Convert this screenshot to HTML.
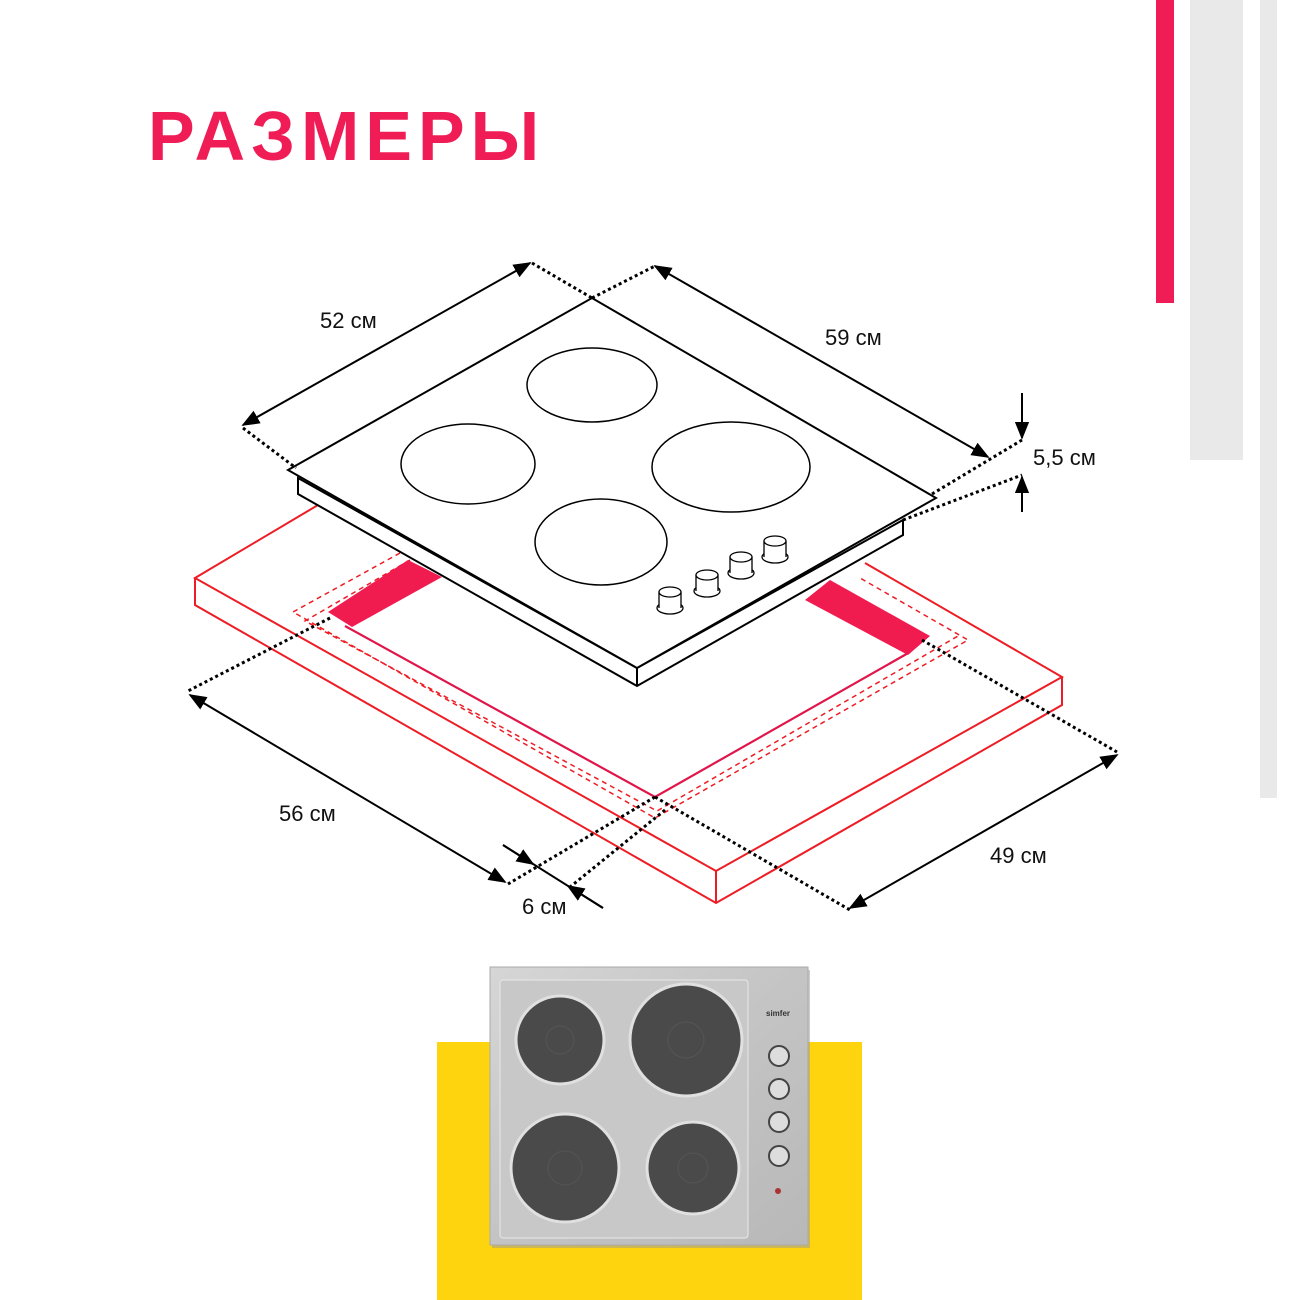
<!DOCTYPE html>
<html><head><meta charset="utf-8"><style>
html,body{margin:0;padding:0;background:#fff;}
body{width:1300px;height:1300px;position:relative;overflow:hidden;font-family:"Liberation Sans",sans-serif;}
.t{position:absolute;left:148px;top:96px;font-size:70px;font-weight:bold;color:#f01c56;letter-spacing:6px;line-height:80px;}
</style></head><body>
<div style="position:absolute;left:1156px;top:0;width:18px;height:303px;background:#f01c56"></div>
<div style="position:absolute;left:1190px;top:0;width:53px;height:460px;background:#e9e9e9"></div>
<div style="position:absolute;left:1260px;top:0;width:17px;height:798px;background:#e9e9e9"></div>
<div class="t">РАЗМЕРЫ</div>
<svg width="1300" height="1300" style="position:absolute;left:0;top:0" font-family="Liberation Sans, sans-serif">
<defs>
<marker id="a" viewBox="0 0 10 10" refX="9" refY="5" markerWidth="9" markerHeight="9" orient="auto-start-reverse"><path d="M0,1 L10,5 L0,9 z" fill="#000"/></marker>
</defs>
<g fill="none" stroke="#ee1c24" stroke-width="2">
<polygon points="195,578 318,505 1062,677 716,871" fill="#fff" stroke="none"/>
<polyline points="318,505 195,578 716,871 1062,677 865,563"/>
<polyline points="195,578 195,605 716,903 1062,705 1062,677"/>
<line x1="716" y1="871" x2="716" y2="903"/>
<polyline points="345,626 655,797 910,652" stroke="#e0164a" stroke-width="2.2"/>
</g>
<g fill="none" stroke="#ee1c24" stroke-width="1.5" stroke-dasharray="5,4">
<polyline points="400,553 293,612 655,818 968,640 860,578"/>
<polyline points="410,560 305,621 657,811 958,636"/>
</g>
<polygon points="408,560 442,577 352,627 328,612" fill="#f01c50"/>
<polygon points="830,580 930,636 908,655 805,600" fill="#f01c50"/>
<g stroke="#000" stroke-width="2" fill="#fff">
<polygon points="298,478 298,494 637,686 903,535 903,520 637,668"/>
<polygon points="288,470 592,298 936,498 637,668"/>
<line x1="637" y1="668" x2="637" y2="686"/>
</g>
<g stroke="#000" stroke-width="1.5" fill="none">
<ellipse cx="592" cy="385" rx="65" ry="37"/>
<ellipse cx="468" cy="464" rx="67" ry="40"/>
<ellipse cx="731" cy="467" rx="79" ry="45"/>
<ellipse cx="601" cy="542" rx="66" ry="43"/>
</g>
<g stroke="#000" stroke-width="1.3" fill="#fff">
<g transform="translate(670,600)"><ellipse cx="0" cy="8" rx="13" ry="6"/><rect x="-11" y="-8" width="22" height="16" stroke="none"/><line x1="-11" y1="-8" x2="-11" y2="8"/><line x1="11" y1="-8" x2="11" y2="8"/><ellipse cx="0" cy="-8" rx="11" ry="5"/></g>
<g transform="translate(707,583)"><ellipse cx="0" cy="8" rx="13" ry="6"/><rect x="-11" y="-8" width="22" height="16" stroke="none"/><line x1="-11" y1="-8" x2="-11" y2="8"/><line x1="11" y1="-8" x2="11" y2="8"/><ellipse cx="0" cy="-8" rx="11" ry="5"/></g>
<g transform="translate(741,565)"><ellipse cx="0" cy="8" rx="13" ry="6"/><rect x="-11" y="-8" width="22" height="16" stroke="none"/><line x1="-11" y1="-8" x2="-11" y2="8"/><line x1="11" y1="-8" x2="11" y2="8"/><ellipse cx="0" cy="-8" rx="11" ry="5"/></g>
<g transform="translate(775,549)"><ellipse cx="0" cy="8" rx="13" ry="6"/><rect x="-11" y="-8" width="22" height="16" stroke="none"/><line x1="-11" y1="-8" x2="-11" y2="8"/><line x1="11" y1="-8" x2="11" y2="8"/><ellipse cx="0" cy="-8" rx="11" ry="5"/></g>
</g>
<g stroke="#000" stroke-width="3" stroke-dasharray="3,3" fill="none">
<line x1="532" y1="263" x2="592" y2="298"/>
<line x1="592" y1="298" x2="655" y2="266"/>
<line x1="243" y1="428" x2="296" y2="468"/>
<line x1="932" y1="494" x2="1022" y2="440"/>
<line x1="903" y1="520" x2="1022" y2="475"/>
<line x1="330" y1="618" x2="186" y2="692"/>
<line x1="655" y1="797" x2="508" y2="884"/>
<line x1="665" y1="810" x2="570" y2="887"/>
<line x1="655" y1="797" x2="850" y2="910"/>
<line x1="922" y1="640" x2="1117" y2="752"/>
</g>
<g stroke="#000" stroke-width="2" fill="none">
<line x1="243" y1="425" x2="530" y2="263" marker-start="url(#a)" marker-end="url(#a)"/>
<line x1="655" y1="266" x2="988" y2="457" marker-start="url(#a)" marker-end="url(#a)"/>
<line x1="1022" y1="393" x2="1022" y2="438" marker-end="url(#a)"/>
<line x1="1022" y1="512" x2="1022" y2="477" marker-end="url(#a)"/>
<line x1="190" y1="695" x2="505" y2="882" marker-start="url(#a)" marker-end="url(#a)"/>
<line x1="1117" y1="755" x2="850" y2="908" marker-start="url(#a)" marker-end="url(#a)"/>
<line x1="503" y1="845" x2="603" y2="908"/>
<line x1="503" y1="845" x2="533" y2="864" marker-end="url(#a)"/>
<line x1="603" y1="908" x2="568" y2="886" marker-end="url(#a)"/>
</g>
<g font-size="22" fill="#111">
<text x="320" y="328">52 см</text>
<text x="825" y="345">59 см</text>
<text x="1033" y="465">5,5 см</text>
<text x="279" y="821">56 см</text>
<text x="990" y="863">49 см</text>
<text x="522" y="914">6 см</text>
</g>
<rect x="437" y="1042" width="425" height="258" fill="#fdd40e"/>
<defs><linearGradient id="st" x1="0" y1="0" x2="1" y2="1"><stop offset="0" stop-color="#d6d6d6"/><stop offset="0.5" stop-color="#c4c4c4"/><stop offset="1" stop-color="#b8b8b8"/></linearGradient></defs>
<rect x="492" y="970" width="318" height="278" fill="#999" opacity="0.5"/>
<rect x="490" y="967" width="318" height="278" fill="url(#st)" stroke="#aaa"/>
<rect x="500" y="980" width="248" height="258" rx="3" fill="#c8c8c8" stroke="#e8e8e8"/>
<g stroke="#e0e0e0" stroke-width="3" fill="#4a4a4a">
<circle cx="560" cy="1040" r="44"/>
<circle cx="686" cy="1040" r="56"/>
<circle cx="565" cy="1168" r="54"/>
<circle cx="693" cy="1168" r="46"/>
</g>
<g fill="none" stroke="#555"><circle cx="560" cy="1040" r="14"/><circle cx="686" cy="1040" r="18"/><circle cx="565" cy="1168" r="17"/><circle cx="693" cy="1168" r="15"/></g>
<g fill="#ddd" stroke="#444" stroke-width="2">
<circle cx="779" cy="1056" r="10"/><circle cx="779" cy="1089" r="10"/><circle cx="779" cy="1122" r="10"/><circle cx="779" cy="1156" r="10"/>
</g>
<circle cx="778" cy="1191" r="3" fill="#a33"/>
<text x="766" y="1016" font-size="8" font-weight="bold" fill="#333">simfer</text>
</svg>
</body></html>
